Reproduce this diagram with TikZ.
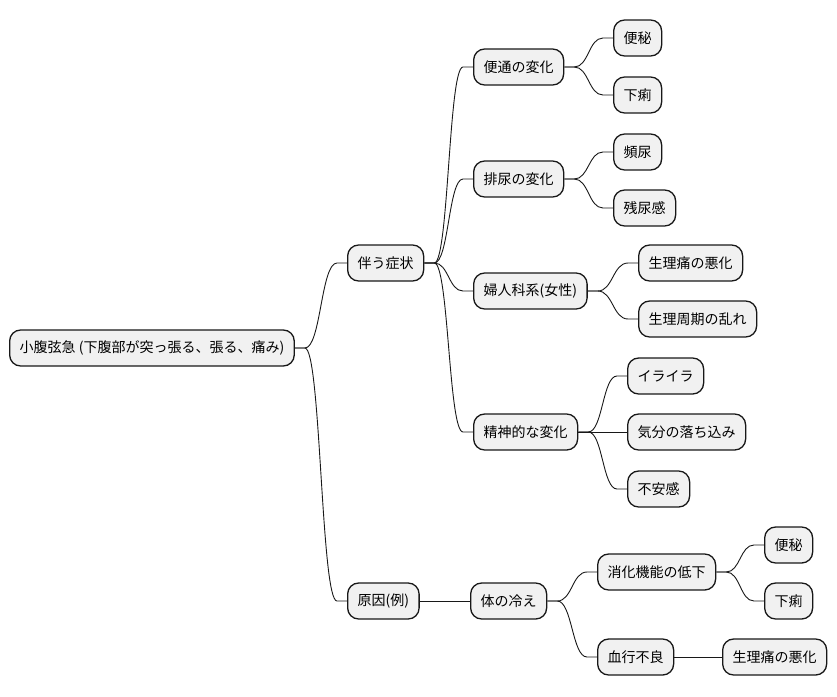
\documentclass[tikz,border=0pt]{standalone}
\usepackage{fontspec}
\setmainfont{Noto Sans CJK JP}
\usetikzlibrary{calc}
\definecolor{boxfill}{HTML}{F1F1F1}
\definecolor{boxline}{HTML}{181818}
\tikzset{
  mmbox/.style={draw=boxline, fill=boxfill, line width=1.3pt, rounded corners=11pt,
    minimum height=36pt, inner xsep=10pt, anchor=west, font=\fontsize{14pt}{16pt}\selectfont},
  mmline/.style={draw=boxline, line width=0.9pt}
}
\newcommand\mmlink[2]{%
  \path (#1.east) ++(10pt,0) coordinate (mmA);
  \path (#2.west) ++(-10pt,0) coordinate (mmB);
  \path ($(mmA)!0.5!(mmB)$) coordinate (mmM);
  \draw[mmline] (#1.east) -- (mmA) .. controls (mmM |- mmA) and (mmM |- mmB) .. (mmB) -- (#2.west);
}
\begin{document}
\begin{tikzpicture}[x=1pt,y=-1pt]
\useasboundingbox (0,0) rectangle (837,696);
\node[mmbox] (root) at (9,348) {小腹弦急 (下腹部が突っ張る、張る、痛み)};
\node[mmbox] (sym) at (347,263) {伴う症状};
\node[mmbox] (cause) at (347,601) {原因(例)};
\node[mmbox] (bowel) at (473,67) {便通の変化};
\node[mmbox] (urine) at (473,179) {排尿の変化};
\node[mmbox] (gyn) at (473,291) {婦人科系(女性)};
\node[mmbox] (mental) at (473,432) {精神的な変化};
\node[mmbox] (b1) at (613,38) {便秘};
\node[mmbox] (b2) at (613,95) {下痢};
\node[mmbox] (u1) at (613,152) {頻尿};
\node[mmbox] (u2) at (613,208) {残尿感};
\node[mmbox] (g1) at (638,263) {生理痛の悪化};
\node[mmbox] (g2) at (638,319) {生理周期の乱れ};
\node[mmbox] (m1) at (627,376) {イライラ};
\node[mmbox] (m2) at (627,432) {気分の落ち込み};
\node[mmbox] (m3) at (627,489) {不安感};
\node[mmbox] (cold) at (470,601) {体の冷え};
\node[mmbox] (dig) at (597,572) {消化機能の低下};
\node[mmbox] (blood) at (597,657) {血行不良};
\node[mmbox] (d1) at (764,545) {便秘};
\node[mmbox] (d2) at (764,601) {下痢};
\node[mmbox] (bl1) at (722,657) {生理痛の悪化};
\mmlink{root}{sym}
\mmlink{root}{cause}
\mmlink{sym}{bowel}
\mmlink{sym}{urine}
\mmlink{sym}{gyn}
\mmlink{sym}{mental}
\mmlink{bowel}{b1}
\mmlink{bowel}{b2}
\mmlink{urine}{u1}
\mmlink{urine}{u2}
\mmlink{gyn}{g1}
\mmlink{gyn}{g2}
\mmlink{mental}{m1}
\draw[mmline] (mental.east) -- (m2.west);
\mmlink{mental}{m3}
\draw[mmline] (cause.east) -- (cold.west);
\mmlink{cold}{dig}
\mmlink{cold}{blood}
\mmlink{dig}{d1}
\mmlink{dig}{d2}
\draw[mmline] (blood.east) -- (bl1.west);
\end{tikzpicture}
\end{document}
